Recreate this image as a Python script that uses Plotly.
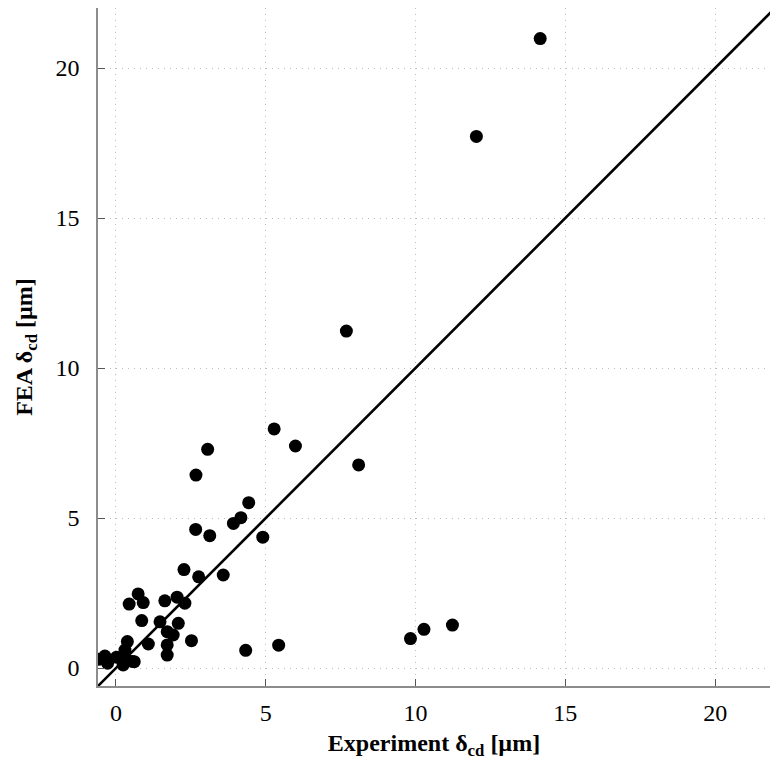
import plotly.graph_objects as go

exp_x = [14.16, 12.03, 7.69, 5.28, 5.99, 8.10, 3.06, 2.67, 4.43, 4.17, 3.92, 2.66, 3.13, 4.90,
         2.27, 2.76, 3.58, 4.33, 5.43, 9.83, 10.28, 11.23,
         0.74, 0.44, 0.91, 1.63, 2.04, 2.30, 0.86, 1.47, 2.08, 1.71, 1.91, 2.52,
         0.38, 1.08, 1.71, 1.71, 0.30,
         -0.59, -0.37, -0.28, 0.02, 0.24, 0.36, 0.61, 0.55]
fea_y = [20.98, 17.72, 11.23, 7.97, 7.40, 6.77, 7.29, 6.43, 5.51, 5.01, 4.82, 4.62, 4.41, 4.36,
         3.28, 3.04, 3.10, 0.59, 0.76, 0.98, 1.29, 1.43,
         2.47, 2.13, 2.18, 2.24, 2.36, 2.16, 1.58, 1.54, 1.49, 1.21, 1.10, 0.91,
         0.88, 0.80, 0.77, 0.43, 0.60,
         0.29, 0.40, 0.16, 0.36, 0.10, 0.27, 0.21, 0.22]
ref_line = [-0.6, 22.0]

fig = go.Figure()
fig.add_trace(go.Scatter(x=ref_line, y=ref_line, mode="lines",
                         line=dict(color="black", width=2.6), showlegend=False,
                         hoverinfo="skip"))
fig.add_trace(go.Scatter(x=exp_x, y=fea_y, mode="markers",
                         marker=dict(color="black", size=13), showlegend=False))

font_family = "Liberation Serif"
axis_common = dict(
    showline=True, linecolor="#8c8c8c", linewidth=1.5,
    ticks="inside", ticklen=7, tickcolor="#555555", tickwidth=1.2,
    showgrid=True, gridcolor="#bdbdbd", griddash="1px,5px", gridwidth=1.3,
    zeroline=False, mirror=False, automargin=False,
    tickfont=dict(family=font_family, size=24, color="black"),
    tickvals=[0, 5, 10, 15, 20],
)
fig.update_xaxes(range=[-0.6, 21.83],
                 title=dict(text="<b>Experiment δ<sub>cd</sub> [µm]</b>",
                            font=dict(family=font_family, size=24, color="black"),
                            standoff=10),
                 ticklabelstandoff=4,
                 **axis_common)
fig.update_yaxes(range=[-0.6, 22.0],
                 title=dict(text="<b>FEA δ<sub>cd</sub> [µm]</b>",
                            font=dict(family=font_family, size=24, color="black"),
                            standoff=16),
                 ticklabelstandoff=12,
                 **axis_common)
fig.update_layout(width=771, height=770,
                  margin=dict(l=98, r=1, t=8, b=84),
                  plot_bgcolor="white", paper_bgcolor="white")
fig.write_html("out.html",
               config={"displayModeBar": False},
               post_script="document.body.style.margin='0px';document.body.style.overflow='hidden';")
